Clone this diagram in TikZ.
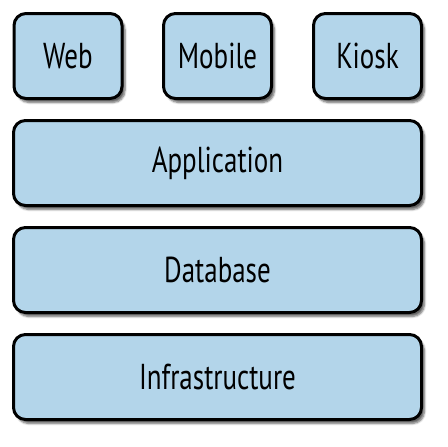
\documentclass[tikz,border=0pt]{standalone}
\usepackage{fontspec}
\setmainfont[FakeStretch=0.75]{PT Sans}
\usetikzlibrary{shadows,shadows.blur}
\definecolor{boxblue}{RGB}{179,213,234}
\tikzset{
  layer/.style={draw=black, line width=3pt, rounded corners=12pt, fill=boxblue,
    minimum height=85pt, inner sep=0pt, font=\fontsize{36}{36}\selectfont,
    blur shadow={shadow xshift=3pt, shadow yshift=-4pt, shadow blur steps=6, shadow opacity=60, shadow blur extra rounding=2pt}},
  small/.style={layer, minimum width=108pt},
  wide/.style={layer, minimum width=408pt}
}
\begin{document}
\begin{tikzpicture}[x=1pt, y=-1pt]
\useasboundingbox (0,0) rectangle (448,447);
\node[small] (web) at (68,56) {Web};
\node[small] (mobile) at (217.5,56) {Mobile};
\node[small] (kiosk) at (367.5,56) {Kiosk};
\node[wide] (app) at (217.5,163) {Application};
\node[wide] (db) at (217.5,270) {Database};
\node[wide] (infra) at (217.5,377) {Infrastructure};
\end{tikzpicture}
\end{document}
